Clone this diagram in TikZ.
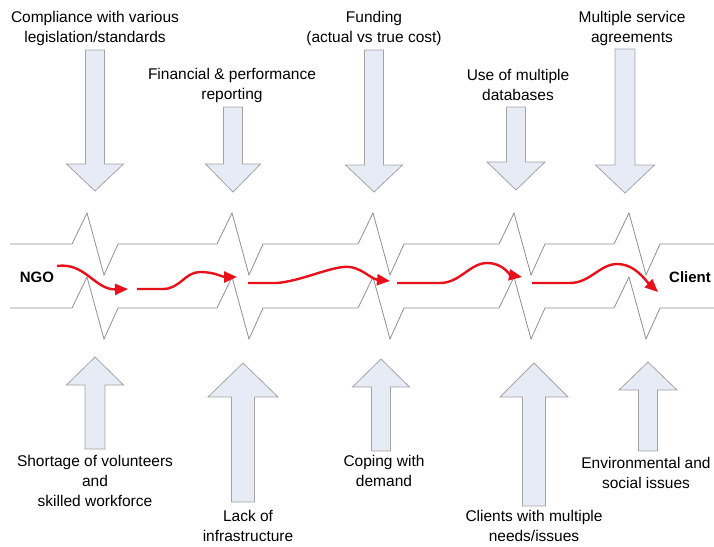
\documentclass[tikz,border=0pt]{standalone}
\usepackage{fontspec}
\setmainfont{Liberation Sans}
\usetikzlibrary{arrows.meta}
\definecolor{flowred}{HTML}{E8101A}
\definecolor{pipegray}{HTML}{8F8F8F}
\definecolor{boxfill}{HTML}{E6EBF6}
\definecolor{boxline}{HTML}{A4A4A4}
% block arrow: (x : tail y : head base y : tip y : shaft half : head half)
\def\blockarrow(#1:#2:#3:#4:#5:#6){\draw[block] ({#1-#5},#2) -- ({#1+#5},#2) -- ({#1+#5},#3) -- ({#1+#6},#3) -- (#1,#4) -- ({#1-#6},#3) -- ({#1-#5},#3) -- cycle;}

\begin{document}
\begin{tikzpicture}[x=1pt,y=-1pt,
    block/.style={draw=boxline, fill=boxfill, line width=0.8pt, line join=miter},
    pipe/.style={draw=pipegray, line width=0.8pt},
    flow/.style={draw=flowred, line width=2.4pt, -{Triangle[length=13pt,width=11pt]}},
    lbl/.style={align=center, font=\fontsize{15.5}{20}\selectfont, inner sep=0pt},
    ends/.style={font=\fontsize{15}{17}\selectfont\bfseries, inner sep=0pt}]
		\useasboundingbox (0,0) rectangle (714,546);
		
		%%%%% pipe %%%%%
		\foreach \dy in {0,64}{
			\draw[pipe] (10,244+\dy) \foreach \p in {87,232,373,514,629}{ -- ({\p-15},244+\dy) -- (\p,213+\dy) -- ({\p+17},275+\dy) -- ({\p+31},244+\dy)} -- (714,244+\dy);
		}
		
		%%%%% pressures from above %%%%%
		\blockarrow(95:50:164:191:9.5:28.5)
		\blockarrow(233:107:164:192:9.5:27.5)
		\blockarrow(374:50:165:192:9.5:28.5)
		\blockarrow(516:107:162:190:9.5:29)
		\blockarrow(625:49:165:193:10:29.5)
		
		%%%%% pressures from below %%%%%
		\blockarrow(95:449:385:357:10:28.5)
		\blockarrow(243:502:397:363:11.5:35)
		\blockarrow(381:451:387:359:9.5:28.5)
		\blockarrow(534:506:397:363:11.5:34)
		\blockarrow(648:451:390:362:9.5:29)
		
		%%%%% labels %%%%%
		\node[lbl] (comply) at (95,28) {Compliance with various\\legislation/standards};
		\node[lbl] (report) at (232,85) {Financial \& performance\\reporting};
		\node[lbl] (fund) at (374,28) {Funding\\(actual vs true cost)};
		\node[lbl] (dbase) at (518,85) {Use of multiple\\databases};
		\node[lbl] (agree) at (632,28) {Multiple service\\agreements};
		
		\node[lbl] (staff) at (95,481) {Shortage of volunteers\\and\\skilled workforce};
		\node[lbl] (infra) at (248,526) {Lack of\\infrastructure};
		\node[lbl] (demand) at (384,471) {Coping with\\demand};
		\node[lbl] (needs) at (534,526) {Clients with multiple\\needs/issues};
		\node[lbl] (enviro) at (646,473) {Environmental and\\social issues};
		
		\node[ends] (ngo) at (37,277) {NGO};
		\node[ends] (client) at (690,277) {Client};
		
		%%%%% flow %%%%%
		\draw[flow] (57,266) .. controls (85,262) and (95,290) .. (128,289);
		\draw[flow] (137,289) -- (163,289) .. controls (180,289) and (185,272) .. (200,272) .. controls (215,272) and (222,277) .. (237,277);
		\draw[flow] (248,283) -- (277,283) .. controls (300,281) and (325,269) .. (343,267) .. controls (360,265) and (370,279) .. (390,281);
		\draw[flow] (397,283) -- (440,283) .. controls (460,283) and (470,263) .. (487,263) .. controls (503,263) and (510,275) .. (522,277);
		\draw[flow] (532,283) -- (570,283) .. controls (590,283) and (600,264) .. (617,264) .. controls (635,264) and (645,280) .. (658,292);
		
		%%%%% END %%%%%
	\end{tikzpicture}
\end{document}
